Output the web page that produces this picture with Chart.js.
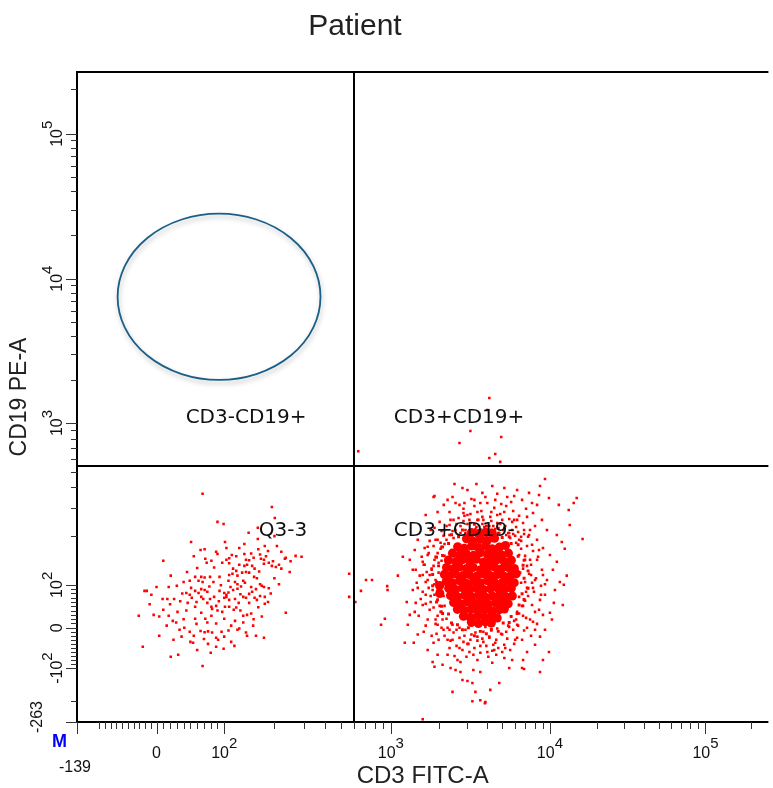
<!DOCTYPE html>
<html>
<head>
<meta charset="utf-8">
<title>Patient</title>
<script src="https://cdn.jsdelivr.net/npm/chart.js@4.4.0/dist/chart.umd.min.js"></script>
<style>
  body { margin: 0; background: #ffffff; }
  #grafico { display: block; }
</style>
</head>
<body>
<canvas id="grafico" width="773" height="788"></canvas>
<script>
// Events: [CD3 FITC-A, CD19 PE-A]
const cd3NegEvents = [
  [68,365],[193,303],[201,259],[90,245],[99,238],[159,225],[51,184],[101,184],[132,179],[159,192],
  [207,174],[175,174],[65,164],[71,166],[103,169],[123,169],[160,166],[183,162],[90,155],[111,153],
  [132,155],[145,156],[164,154],[234,147],[268,151],[291,149],[231,145],[10,141],[81,141],[103,143],
  [107,146],[135,143],[141,142],[166,145],[173,143],[74,137],[97,137],[107,136],[123,133],[132,131],
  [137,133],[147,131],[173,135],[185,137],[193,131],[204,129],[213,133],[247,120],[21,114],[49,106],
  [57,112],[66,112],[71,111],[79,112],[93,112],[107,115],[112,117],[118,122],[120,114],[128,119],
  [135,120],[141,119],[151,112],[157,110],[40,104],[62,106],[68,104],[84,104],[106,106],[109,95],
  [116,104],[120,101],[130,106],[133,103],[145,95],[164,101],[168,98],[173,95],[213,101],[18,95],
  [51,93],[-21,86],[-17,86],[-9,77],[44,81],[49,77],[57,86],[62,81],[71,88],[75,84],
  [93,86],[100,81],[103,77],[106,82],[120,91],[141,79],[147,84],[164,74],[175,72],[9,67],
  [16,67],[26,67],[46,58],[59,60],[66,72],[69,67],[79,67],[75,58],[88,51],[100,70],
  [103,72],[107,65],[116,67],[130,72],[135,70],[141,58],[157,65],[175,56],[57,49],[81,49],
  [82,44],[101,49],[107,49],[114,42],[118,47],[130,28],[137,30],[145,33],[97,37],[31,37],
  [10,42],[-31,28],[4,26],[81,28],[72,21],[75,12],[100,21],[116,16],[149,5],[168,26],
  [234,35],[24,16],[29,12],[15,5],[57,21],[59,9],[34,-5],[41,0],[49,-10],[65,-8],
  [71,-11],[76,-9],[82,-12],[96,-10],[106,-7],[120,-5],[123,-2],[137,-20],[155,-20],[173,-25],
  [4,-20],[37,-22],[50,-35],[54,-37],[76,-40],[88,-25],[91,-30],[100,-22],[88,-47],[99,-52],
  [-24,-47],[21,-72],[32,-67],[68,-95],
  [55,150],[72,145],[88,160],[118,150],[150,147],[178,150],[196,140],[220,126],[60,127],[85,128],
  [113,126],[152,126],[162,121],[45,120],[30,98],[78,96],[95,99],[126,96],[155,90],[185,92],
  [200,110],[38,80],[66,90],[85,72],[113,88],[125,78],[152,70],[190,80],[20,55],[35,62],
  [52,70],[92,62],[122,58],[160,48],[183,60],[44,40],[66,35],[90,40],[125,40],[150,20],
  [18,28],[40,20],[88,10],[110,5],[130,12],[55,-20],[70,-28],[110,-35],[135,-12],[25,-30],
  [60,-55],[80,-62],[115,-45],[-5,30],[-12,55],[0,95],[220,160],[250,140],[200,200],[140,210]
];

const cd3PosEvents = [
  // outer scatter
  [2512,420],[3450,420],[9310,451],[8660,408],[2818,397],[4340,408],[5170,397],[1880,354],[3760,370],[4665,365],
  [5960,354],[7390,370],[8540,359],[9860,344],[14860,344],[14220,320],[7720,320],[11410,312],[13210,290],[3350,335],
  [2900,320],[16220,192],[13410,234],[11920,184],[12460,167],[11080,139],[12830,114],[12280,100],[11580,104],[10600,58],
  [12100,53],[10000,35],[8660,-22],[9860,-60],[8660,-112],[6880,-103],[6780,-80],[1189,149],[1106,114],[1258,60],
  [1432,58],[1314,30],[1223,-37],[1392,-37],[1585,53],[1475,93],[1585,139],[1412,164],[1703,172],[1855,349],
  [1830,-85],[1880,-97],[2372,-100],[2550,-106],[2738,-112],[3300,-106],[3650,-112],[3030,-139],[3255,-145],[3400,-172],
  [2441,-172],[4800,-145],[3930,-203],[3650,-197],[5170,-75],[6680,-100],[2623,-80],[2272,-67],
  [1655,270],[1778,218],[1475,190],[1314,143],[1373,88],[1277,7],[1475,-17],[1703,-55],[1967,-67],[2113,-92],
  [5790,-80],[7180,-60],[8060,-42],[9310,-5],[10300,19],[10450,124],[10000,153],[9580,218],[8910,252],[8300,312],
  [6220,385],[3030,385],[2272,335],[11080,203],[10770,88],[9040,-80],[5546,-100],[2818,-136],[4217,-166],[1630,169],
  [1373,124],
  // upper halo
  [2150,312],[2338,282],[2550,320],[2663,259],[2860,295],[3030,238],[3162,274],[3350,307],[3500,252],[3706,286],
  [3870,228],[4040,320],[4217,263],[4467,299],[4665,241],[4870,274],[5085,218],[5310,307],[5546,255],[5874,286],
  [6132,228],[6400,267],[6780,241],[7080,295],[7500,218],[2237,231],[2441,215],[2587,238],[2738,209],[2943,218],
  [3117,252],[3255,215],[3450,228],[3603,206],[3814,252],[3983,212],[4160,231],[4340,206],[4530,221],[4800,209],
  [5012,252],[5236,231],[5466,209],[5790,218],[6046,201],[6310,212],[6590,198],[2025,245],[2082,215],[1880,225],
  [1967,282],[2441,349],[2700,312],[3209,339],[3927,349],[4530,335],[5390,349],[5705,325],[6683,335],[7180,263],
  [7830,278],[8060,231],[2371,252],[2900,267],[3652,320],[4280,282],[4940,316],[5958,252],[6880,206],[2144,201],
  // left halo
  [1967,190],[1855,174],[2054,167],[1728,157],[1910,149],[2082,141],[1630,133],[1804,126],[1995,119],[1518,114],
  [1703,107],[1880,101],[2054,93],[1585,84],[1778,74],[1967,65],[1655,56],[1855,47],[2054,37],[1496,28],
  [1703,19],[1910,9],[2082,0],[1608,-10],[1804,-20],[1995,-30],[2174,179],[1753,187],[1453,103],[1540,67],
  [1412,37],[1655,5],[1855,-37],[2113,19],[2144,74],[2174,115],[1679,120],[1562,149],[1830,88],[1937,-15],
  [1432,124],[2025,51],
  // right halo
  [6590,187],[7180,174],[7830,162],[6400,153],[6980,143],[7610,133],[8420,149],[6780,126],[7390,117],[8180,110],
  [8910,124],[6590,103],[7180,93],[7940,84],[8790,98],[6400,72],[6980,63],[7720,53],[8540,42],[6220,37],
  [6780,28],[7500,19],[8300,9],[6310,5],[6880,-7],[7610,-20],[6046,-30],[9310,77],[9040,169],[8300,190],
  [7290,198],[9580,107],[8060,-5],[6683,51],[8660,65],[7080,84],[6132,19],[6494,119],[7720,103],[9040,30],
  // lower halo
  [2272,0],[2477,-12],[2700,-25],[2943,-5],[3209,-17],[3500,-32],[3814,-10],[4160,-22],[4530,-37],[4940,-15],
  [5390,-27],[5874,-5],[2371,-32],[2587,-45],[2818,-55],[3072,-40],[3350,-50],[3652,-62],[3983,-45],[4340,-57],
  [4732,-50],[5160,-42],[5623,-55],[2174,-20],[2512,-70],[2985,-72],[3500,-80],[4100,-72],[4597,-67],[2700,0],
  [3209,5],[3927,2],[4665,-2],[5466,5],[3760,-27],[2860,-35],[4280,-7],[5012,-60],[3302,-67],[2338,-50],
  [5958,-40],[2738,-85],[4340,-87],
  // close to the saturated centre
  [2550,218],[2738,231],[2943,209],[3162,241],[3400,221],[3760,238],[4040,218],[4404,231],[4732,209],[5160,225],
  [5546,209],[2860,248],[3550,252],[4280,248],[4870,238],[2237,190],[2082,172],[2338,203],[1967,157],[2174,151],
  [2477,195],[1880,143],[2054,182],[1855,131],[1753,115],[1910,107],[1728,93],[1880,77],[1778,60],[1995,137],
  [1967,65],[1655,104],[1804,124],[2082,37],[2237,21],[2441,7],[2174,51],[2587,-5],[1967,28],[2338,-5],
  [2900,-20],[3162,-30],[3500,-22],[3814,-35],[4160,-25],[4597,-30],[5012,-17],[3030,-40],[3652,-45],[4404,-42],
  [3400,-12],[5546,2],[5958,16],[6400,33],[6780,51],[5310,-10],[6220,7],[7080,23],[7180,131],[7610,115],
  [6980,104],[7830,93],[7290,74],[6880,65],[8060,107],[7500,143],[5623,195],[6132,182],[6590,167],[6980,151],
  [5310,203],[6400,190],[5874,206],
  [1585,115],[1655,77],[1753,42],[1910,19],[2144,-5],[2441,-30],[2700,-50],[4040,-60],[5236,-50],[6220,-25],
  [7180,0],[8060,37],[8790,77],[9040,115],[8300,143],[7720,177],[6880,218],[5790,245],[4665,270],[3760,263],
  [3030,270],[2477,252],[2174,218],[1910,190],[1703,153],[1608,133],[2338,234],[2860,278],[3500,282],[5160,282],
  [6220,252],[7390,203],[8540,164],[9310,101],[7830,14],[6683,-30],[4467,-55],[3117,-60],[2272,-30],[1967,7]
];

// edge of the saturated centre of the CD3+ population
const cd3PosCoreEdge = [
  [6880,110],[6683,79],[6400,53],[5705,26],[5085,11],[4280,-4],[3652,-9],[3072,0],[2623,7],[2304,32],
  [2082,50],[1967,86],[1937,104],[1995,131],[2113,152],[2304,180],[2663,198],[3117,217],[3652,219],[4280,218],
  [5012,196],[5705,180],[6310,150],[6780,132],[7290,92],[6880,66],[6220,33],[5546,12],[4732,-9],[3983,-15],
  [3350,-20],[2818,-5],[2406,11],[2113,33],[1937,60],[1830,98],[1830,116],[1937,148],[2113,171],[2406,204],
  [2818,218],[3350,237],[3983,231],[4732,224],[5546,198],[6310,177],[6880,142],[7290,122]
];

// saturated centre (events overlap completely here)
const cd3PosDenseCore = [
  [3209,210],[3550,207],[3930,211],[4340,208],
  [2990,193],[3290,186],[3660,191],[4030,188],[4480,194],
  [2630,172],[2890,168],[3220,174],[3540,170],[3940,173],[4330,167],[4810,171],[5250,175],
  [2440,157],[2710,153],[2970,156],[3310,152],[3640,158],[4050,154],[4460,156],[4950,153],[5480,157],
  [2300,142],[2560,139],[2810,143],[3130,140],[3440,144],[3820,138],[4230,141],[4650,143],[5170,139],[5720,142],
  [2240,128],[2450,125],[2690,129],[2990,126],[3290,128],[3660,124],[4030,127],[4480,129],[4930,125],[5470,128],[5970,126],
  [2170,116],[2310,113],[2540,117],[2830,114],[3110,116],[3460,113],[3810,117],[4210,114],[4670,116],[5150,113],[5700,115],[6140,117],
  [2230,105],[2440,103],[2710,106],[2980,102],[3300,105],[3650,103],[4050,106],[4460,104],[4950,102],[5460,105],[5960,103],
  [2025,98],[2310,92],[2550,89],[2820,93],[3120,90],[3450,92],[3820,89],[4220,91],[4660,93],[5160,90],[5710,92],
  [2030,80],[2370,75],[2620,72],[2910,76],[3200,73],[3560,75],[3930,71],[4340,74],[4800,76],[5300,72],[5800,74],
  [2480,59],[2740,56],[3020,60],[3360,57],[3710,59],[4090,55],[4540,58],[5010,60],[5460,56],
  [2620,43],[2900,40],[3210,44],[3560,41],[3920,43],[4350,39],[4790,42],[5170,44],
  [2860,27],[3160,24],[3500,28],[3880,25],[4270,27],[4660,23],
  [3210,13],[3550,10],[3930,14],[4280,11]
];

const strayEvents = [
  [4160,1491],[4040,1231],[3162,892],[2700,752],[4940,820],[4530,644],[4160,607],[4870,575],[637,670],
  [562,117],[562,72],[612,60],[661,86],[709,107],[770,107],[873,7],[920,21],[950,97],[955,88],
  [1585,-255],[3255,-200],[3900,-206]
];

// Axis labels
const xTickValues = [-139, 0, 100, 1000, 10000, 100000];
const xTickLabels = ['-139', '0', '10^2', '10^3', '10^4', '10^5'];
const yTickValues = [-263, -100, 0, 100, 1000, 10000, 100000];
const yTickLabels = ['-263', '-10^2', '0', '10^2', '10^3', '10^4', '10^5'];

// Gates
const quadrantNames = ['CD3-CD19+', 'CD3+CD19+', 'Q3-3', 'CD3+CD19-'];
const quadrantX = 600;
const quadrantY = 545;
const ellipseGate = [-68, 378, 1990, 28100];

// Biexponential display: linear around zero, logarithmic from 10^2 up
const xAxisValues = [-139, 0, 100, 1000, 10000, 100000, 262143];
const xAxisStops = [0, 115, 213, 454, 684, 909, 1000];
const yAxisValues = [-263, -100, 0, 100, 1000, 10000, 100000, 262143];
const yAxisStops = [0, 83, 145, 211, 460, 682, 905, 1000];

function toDisplay(v, values, stops) {
  let i = 0;
  while (i < values.length - 2 && v > values[i + 1]) i++;
  const a = values[i];
  const b = values[i + 1];
  let t;
  if (a >= 100) {
    t = Math.log10(v / a) / Math.log10(b / a);
  } else {
    t = (v - a) / (b - a);
  }
  return stops[i] + t * (stops[i + 1] - stops[i]);
}

function toPoints(list) {
  return list.map(p => ({
    x: toDisplay(p[0], xAxisValues, xAxisStops),
    y: toDisplay(p[1], yAxisValues, yAxisStops)
  }));
}

function eventSet(list, radius, style) {
  return {
    data: toPoints(list),
    pointStyle: style,
    pointRadius: radius,
    pointHoverRadius: radius,
    pointBackgroundColor: '#ff0000',
    pointBorderColor: '#ff0000',
    pointBorderWidth: 0
  };
}

function minorTicks(linearFrom, extra, majors) {
  const list = extra.slice();
  for (let v = linearFrom; v < 100; v += 10) list.push(v);
  [100, 1000, 10000, 100000].forEach(d => {
    for (let m = 2; m <= 9; m++) {
      if (m * d <= 262143) list.push(m * d);
    }
  });
  return list.filter(v => majors.indexOf(v) === -1);
}

const tickFont = '16px "Liberation Sans", Arial, sans-serif';
const expFont = '15px "Liberation Sans", Arial, sans-serif';

// Draws '10^2' as 10 with a raised exponent, centred on (0, 0)
function drawPowerLabel(ctx, text) {
  const parts = text.split('^');
  ctx.font = tickFont;
  const wb = ctx.measureText(parts[0]).width;
  let we = 0;
  if (parts[1]) {
    ctx.font = expFont;
    we = ctx.measureText(parts[1]).width;
  }
  const start = -(wb + we) / 2;
  ctx.font = tickFont;
  ctx.fillText(parts[0], start, 0);
  if (parts[1]) {
    ctx.font = expFont;
    ctx.fillText(parts[1], start + wb, -10);
  }
}

const cytoPlugin = {
  id: 'cyto',
  afterDatasetsDraw(chart) {
    const { ctx, chartArea: area, scales } = chart;
    const px = v => scales.x.getPixelForValue(toDisplay(v, xAxisValues, xAxisStops));
    const py = v => scales.y.getPixelForValue(toDisplay(v, yAxisValues, yAxisStops));
    ctx.save();

    // Ellipse gate with soft shadow
    const ex1 = px(ellipseGate[0]);
    const ex2 = px(ellipseGate[1]);
    const ey1 = py(ellipseGate[2]);
    const ey2 = py(ellipseGate[3]);
    ctx.shadowColor = 'rgba(0, 0, 0, 0.28)';
    ctx.shadowBlur = 5;
    ctx.shadowOffsetX = 1;
    ctx.shadowOffsetY = 3;
    ctx.strokeStyle = '#1a5f88';
    ctx.lineWidth = 1.8;
    ctx.beginPath();
    ctx.ellipse((ex1 + ex2) / 2, (ey1 + ey2) / 2, (ex2 - ex1) / 2, (ey1 - ey2) / 2, 0, 0, Math.PI * 2);
    ctx.stroke();
    ctx.shadowColor = 'transparent';
    ctx.shadowBlur = 0;
    ctx.shadowOffsetX = 0;
    ctx.shadowOffsetY = 0;

    // Frame (no right edge, the plot runs to the border)
    ctx.strokeStyle = '#000';
    ctx.lineWidth = 2;
    ctx.beginPath();
    ctx.moveTo(area.right, area.top);
    ctx.lineTo(area.left, area.top);
    ctx.lineTo(area.left, area.bottom);
    ctx.lineTo(area.right, area.bottom);
    ctx.stroke();

    // Quadrant lines
    const qx = Math.round(px(quadrantX));
    const qy = Math.round(py(quadrantY));
    ctx.beginPath();
    ctx.moveTo(qx, area.top);
    ctx.lineTo(qx, area.bottom);
    ctx.moveTo(area.left, qy);
    ctx.lineTo(area.right, qy);
    ctx.stroke();

    // Quadrant names
    const nameAnchors = [[43, 1000], [1044, 1000], [161, 200], [1044, 200]];
    ctx.font = '20px "DejaVu Sans", Verdana, sans-serif';
    ctx.fillStyle = '#111';
    ctx.textAlign = 'left';
    ctx.textBaseline = 'alphabetic';
    quadrantNames.forEach((name, i) => {
      ctx.fillText(name, px(nameAnchors[i][0]), py(nameAnchors[i][1]));
    });

    // Tick marks
    ctx.strokeStyle = '#333';
    ctx.lineWidth = 1;
    ctx.beginPath();
    minorTicks(-100, [], xTickValues).forEach(v => {
      const x = Math.round(px(v)) + 0.5;
      ctx.moveTo(x, area.bottom);
      ctx.lineTo(x, area.bottom + 7);
    });
    xTickValues.forEach(v => {
      const x = Math.round(px(v)) + 0.5;
      ctx.moveTo(x, area.bottom);
      ctx.lineTo(x, area.bottom + 12);
    });
    minorTicks(-90, [-200], yTickValues).forEach(v => {
      const y = Math.round(py(v)) + 0.5;
      ctx.moveTo(area.left, y);
      ctx.lineTo(area.left - 6, y);
    });
    yTickValues.forEach(v => {
      const y = Math.round(py(v)) + 0.5;
      ctx.moveTo(area.left, y);
      ctx.lineTo(area.left - 11, y);
    });
    ctx.stroke();

    // Tick labels (axis minimum sits on a lower row)
    ctx.fillStyle = '#111';
    ctx.textAlign = 'left';
    ctx.textBaseline = 'alphabetic';
    xTickValues.forEach((v, i) => {
      ctx.save();
      if (i === 0) ctx.translate(px(v) - 2, area.bottom + 50);
      else ctx.translate(px(v), area.bottom + 36);
      drawPowerLabel(ctx, xTickLabels[i]);
      ctx.restore();
    });
    yTickValues.forEach((v, i) => {
      ctx.save();
      if (i === 0) ctx.translate(area.left - 35, py(v) - 5);
      else ctx.translate(area.left - 15, py(v));
      ctx.rotate(-Math.PI / 2);
      drawPowerLabel(ctx, yTickLabels[i]);
      ctx.restore();
    });

    // Corner marker
    ctx.fillStyle = '#0000ff';
    ctx.font = 'bold 18px "Liberation Sans", Arial, sans-serif';
    ctx.fillText('M', area.left - 25, area.bottom + 25);

    // Plot title
    ctx.fillStyle = '#222';
    ctx.font = '30px "Liberation Sans", Arial, sans-serif';
    ctx.textAlign = 'center';
    ctx.fillText('Patient', 355, 35);

    ctx.restore();
  }
};

const ctx = document.getElementById('grafico').getContext('2d');
new Chart(ctx, {
  type: 'scatter',
  data: {
    datasets: [
      eventSet(cd3NegEvents, 1.8, 'rect'),
      eventSet(cd3PosEvents, 1.8, 'rect'),
      eventSet(cd3PosCoreEdge, 2.1, 'rect'),
      eventSet(cd3PosDenseCore, 4.6, 'circle'),
      eventSet(strayEvents, 1.8, 'rect')
    ]
  },
  options: {
    responsive: false,
    animation: false,
    events: [],
    layout: { padding: { top: 72, left: 0, right: 0, bottom: 0 } },
    plugins: {
      legend: { display: false },
      tooltip: { enabled: false },
      title: { display: false }
    },
    scales: {
      x: {
        type: 'linear',
        min: 0,
        max: 1000,
        ticks: { display: false },
        grid: { display: false },
        border: { display: false },
        title: {
          display: true,
          text: 'CD3 FITC-A',
          color: '#222',
          font: { family: '"Liberation Sans", Arial, sans-serif', size: 24, lineHeight: 1 },
          padding: { top: 0, bottom: 0 }
        },
        afterFit(scale) { scale.height = 66; }
      },
      y: {
        type: 'linear',
        min: 0,
        max: 1000,
        ticks: { display: false },
        grid: { display: false },
        border: { display: false },
        title: {
          display: true,
          text: 'CD19 PE-A',
          color: '#222',
          font: { family: '"Liberation Sans", Arial, sans-serif', size: 23, lineHeight: 1 },
          padding: { top: 8, bottom: 0 }
        },
        afterFit(scale) { scale.width = 77; }
      }
    }
  },
  plugins: [cytoPlugin]
});
</script>
</body>
</html>
